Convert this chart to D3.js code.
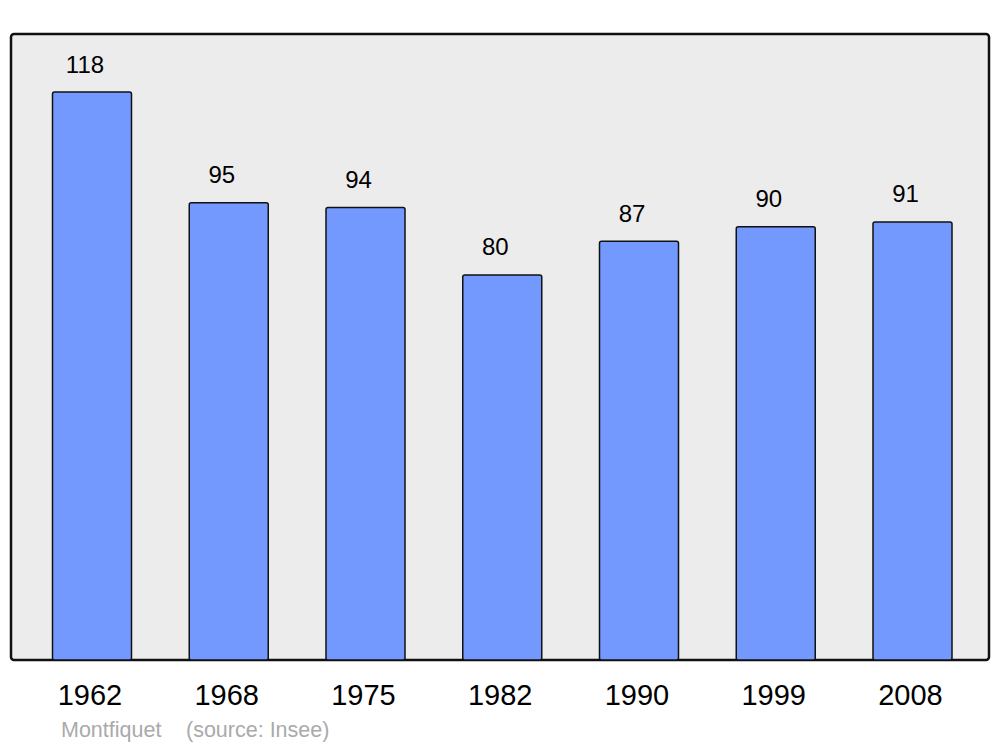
<!DOCTYPE html>
<html><head><meta charset="utf-8">
<script src="https://cdn.jsdelivr.net/npm/d3@7"></script>
<style>body{margin:0;background:#fff}svg{display:block}</style>
</head><body>
<svg id="c" width="1000" height="747"></svg>
<script>
const years = ["1962","1968","1975","1982","1990","1999","2008"];
const values = [118,95,94,80,87,90,91];
const title = "Montfiquet";
const source = "(source: Insee)";

const svg = d3.select("#c");
const x = d3.scalePoint().domain(years).range([92, 912.5]);
const y = d3.scaleLinear().domain([0,118]).range([660,92]);
const bw = 79;
const font = "Liberation Sans, Arial, sans-serif";

svg.append("rect").attr("x",11).attr("y",34).attr("width",978).attr("height",626)
  .attr("rx",3).attr("fill","#ececec").attr("stroke","#111").attr("stroke-width",2.5);

svg.selectAll("rect.bar").data(values).join("rect").attr("class","bar")
  .attr("x",(d,i)=>x(years[i])-bw/2).attr("y",d=>y(d))
  .attr("width",bw).attr("height",d=>y(0)-y(d)).attr("rx",2)
  .attr("fill","#7399ff").attr("stroke","#111").attr("stroke-width",1.5);

svg.selectAll("text.val").data(values).join("text").attr("class","val")
  .attr("x",(d,i)=>x(years[i])-7).attr("y",d=>y(d)-19.5)
  .attr("text-anchor","middle").attr("font-family",font)
  .attr("font-size",24).attr("fill","#000").text(d=>d);

svg.selectAll("text.yr").data(years).join("text").attr("class","yr")
  .attr("x",d=>x(d)-2).attr("y",705)
  .attr("text-anchor","middle").attr("font-family",font)
  .attr("font-size",29).attr("fill","#000").text(d=>d);

svg.append("text").attr("x",61).attr("y",737)
  .attr("font-family",font).attr("font-size",21.5)
  .attr("fill","#aaa").text(title);
svg.append("text").attr("x",186).attr("y",737)
  .attr("font-family",font).attr("font-size",21.5)
  .attr("fill","#aaa").text(source);
</script>
</body></html>
